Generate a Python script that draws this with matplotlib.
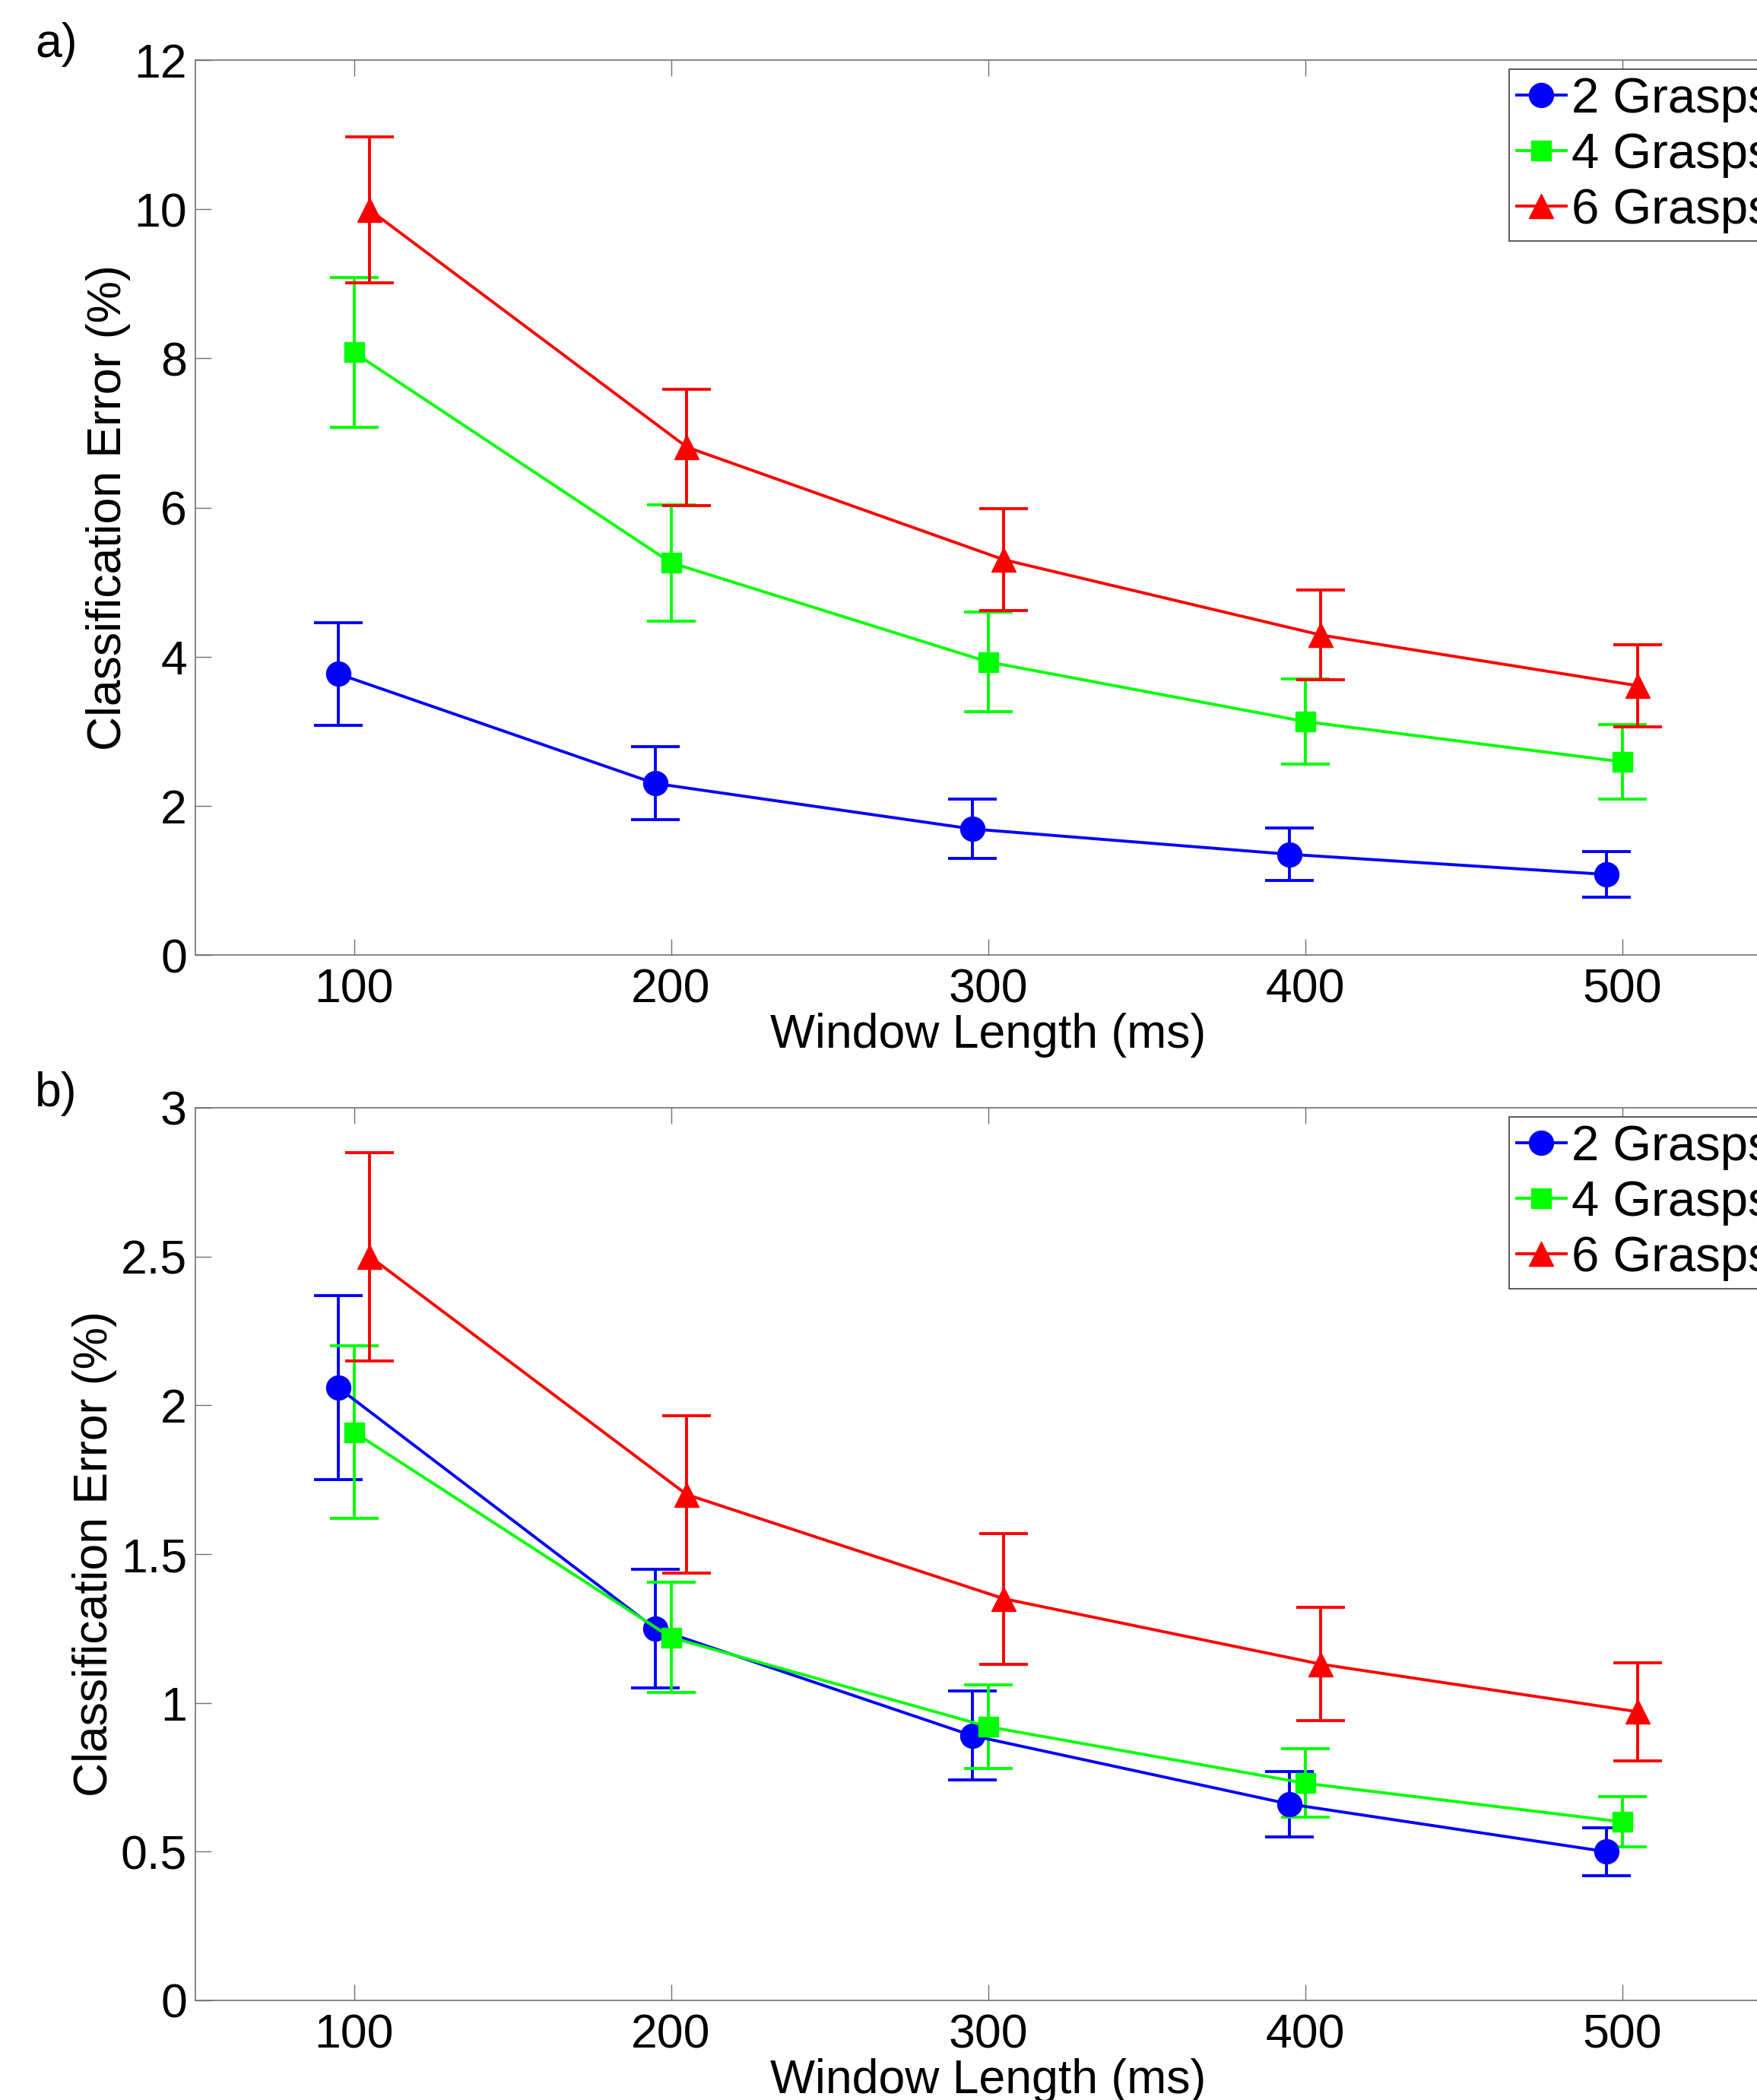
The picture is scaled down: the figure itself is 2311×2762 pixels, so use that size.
import matplotlib
matplotlib.use("Agg")
import matplotlib.pyplot as plt
from matplotlib.ticker import FuncFormatter
import numpy as np

plt.rcParams['font.family'] = ['Liberation Sans', 'DejaVu Sans']

window = [100, 200, 300, 400, 500]
series_labels = ["2 Grasps", "4 Grasps", "6 Grasps"]
offsets = [-5, 0, 5]

# panel a
a_mean_2 = [3.77, 2.30, 1.69, 1.35, 1.08]
a_err_2 = [0.69, 0.49, 0.40, 0.35, 0.31]
a_mean_4 = [8.08, 5.26, 3.93, 3.13, 2.59]
a_err_4 = [1.00, 0.78, 0.67, 0.57, 0.50]
a_mean_6 = [9.99, 6.81, 5.30, 4.29, 3.61]
a_err_6 = [0.98, 0.78, 0.68, 0.60, 0.55]

# panel b
b_mean_2 = [2.06, 1.25, 0.89, 0.66, 0.50]
b_err_2 = [0.31, 0.20, 0.15, 0.11, 0.08]
b_mean_4 = [1.91, 1.22, 0.92, 0.73, 0.60]
b_err_4 = [0.29, 0.185, 0.14, 0.115, 0.085]
b_mean_6 = [2.50, 1.70, 1.35, 1.13, 0.97]
b_err_6 = [0.35, 0.265, 0.22, 0.19, 0.165]

colors = ['#0000ff', '#00ff00', '#ff0000']
markers = ['o', 's', '^']
msizes = [23, 19, 23]

W, H = 2311, 2762
fig = plt.figure(figsize=(W / 100, H / 100), dpi=100)

def px_ax(left, top, right, bottom):
    return [left / W, 1 - bottom / H, (right - left) / W, (bottom - top) / H]

ax1 = fig.add_axes(px_ax(257, 79, 2342, 1256))
ax2 = fig.add_axes(px_ax(257, 1457, 2342, 2631))

fs = 45
spine_col = '#707070'

def draw(ax, means, errs, ylim, yticks, panel):
    handles = []
    for m, e, c, mk, ms, off, lab in zip(means, errs, colors, markers, msizes, offsets, series_labels):
        x = np.array(window) + off
        h = ax.errorbar(x, m, yerr=e, color=c, marker=mk, markersize=ms,
                        linewidth=2.8, elinewidth=2.8, capsize=23, capthick=2.8,
                        markeredgecolor=c, markerfacecolor=c, label=lab)
        handles.append(h.lines[0])
    ax.set_xlim(50, 550)
    ax.set_ylim(*ylim)
    ax.set_xticks(window)
    ax.set_yticks(yticks)
    ax.yaxis.set_major_formatter(FuncFormatter(lambda v, p: '%g' % v))
    ax.tick_params(direction='in', length=15, width=1.0, color=spine_col,
                   top=True, right=True, labelsize=fs, pad=8)
    ax.tick_params(axis='x', pad=12)
    for s in ax.spines.values():
        s.set_color(spine_col)
        s.set_linewidth(1.2)
    ax.set_xlabel('Window Length (ms)', fontsize=fs, labelpad=0)
    ax.set_ylabel('Classification Error (%)', fontsize=fs, labelpad=3)
    leg = ax.legend(handles=handles, labels=series_labels, loc='upper left',
                    bbox_to_anchor=(1985 / W, 1 - (91 if panel == 'a' else 1469) / H),
                    bbox_transform=fig.transFigure, fontsize=47,
                    handlelength=1.0, handletextpad=0.1, labelspacing=0.2,
                    borderpad=0.15, borderaxespad=0, fancybox=False,
                    framealpha=1, edgecolor='#404040')
    leg.get_frame().set_linewidth(1.2)

draw(ax1, [a_mean_2, a_mean_4, a_mean_6], [a_err_2, a_err_4, a_err_6], (0, 12), np.arange(0, 13, 2), 'a')
draw(ax2, [b_mean_2, b_mean_4, b_mean_6], [b_err_2, b_err_4, b_err_6], (0, 3), np.arange(0, 3.01, 0.5), 'b')

fig.text(74 / W, 1 - 58 / H, 'a)', fontsize=fs, ha='center', va='center')
fig.text(74 / W, 1 - 1438 / H, 'b)', fontsize=fs, ha='center', va='center')

fig.savefig('out.png', dpi=100, facecolor='white')
